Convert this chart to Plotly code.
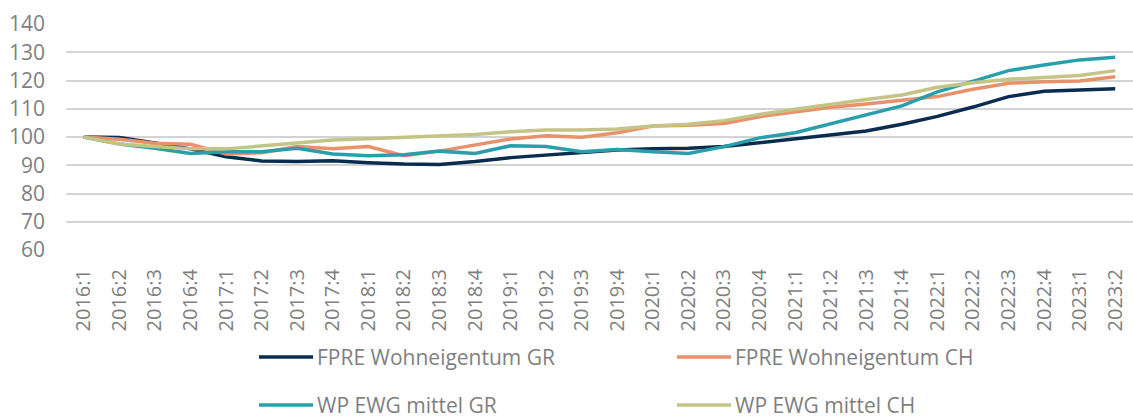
import plotly.graph_objects as go

quarters = [
    "2016:1", "2016:2", "2016:3", "2016:4",
    "2017:1", "2017:2", "2017:3", "2017:4",
    "2018:1", "2018:2", "2018:3", "2018:4",
    "2019:1", "2019:2", "2019:3", "2019:4",
    "2020:1", "2020:2", "2020:3", "2020:4",
    "2021:1", "2021:2", "2021:3", "2021:4",
    "2022:1", "2022:2", "2022:3", "2022:4",
    "2023:1", "2023:2",
]

fpre_gr = [100.0, 99.8, 97.9, 95.8, 93.0, 91.5, 91.3, 91.6, 90.9, 90.4,
           90.3, 91.3, 92.7, 93.6, 94.4, 95.4, 95.8, 96.0, 96.6, 98.0,
           99.5, 101.0, 102.1, 104.5, 107.3, 110.6, 114.3, 116.2, 116.8, 117.1]
fpre_ch = [100.0, 99.2, 97.8, 97.4, 94.0, 94.4, 96.6, 95.8, 96.6, 93.4,
           95.0, 97.3, 99.3, 100.4, 99.9, 101.5, 103.9, 104.2, 104.8, 107.2,
           109.0, 110.5, 111.7, 113.1, 114.3, 116.9, 119.0, 119.6, 119.8, 121.3]
wp_gr = [100.0, 97.5, 96.0, 94.2, 94.8, 94.8, 96.0, 94.0, 93.4, 93.7,
         95.0, 94.2, 96.9, 96.6, 94.8, 95.6, 94.8, 94.2, 96.6, 99.7,
         101.5, 104.6, 107.8, 111.0, 116.0, 119.6, 123.5, 125.5, 127.3, 128.2]
wp_ch = [100.0, 97.5, 96.6, 95.8, 95.8, 96.8, 98.0, 98.9, 99.4, 99.8,
         100.4, 100.9, 101.9, 102.5, 102.5, 102.8, 103.9, 104.5, 105.8, 108.0,
         109.8, 111.7, 113.3, 114.9, 117.6, 119.2, 120.4, 121.1, 121.8, 123.5]

series_names = [
    "FPRE Wohneigentum GR",
    "FPRE Wohneigentum CH",
    "WP EWG mittel GR",
    "WP EWG mittel CH",
]
series_values = [fpre_gr, fpre_ch, wp_gr, wp_ch]
series_colors = ["#0a2c4e", "#e8916a", "#2a9fac", "#c5c487"]

y_ticks = [60, 70, 80, 90, 100, 110, 120, 130, 140]

FONT = "Open Sans"
TEXT_GREY = "#7f7f7f"
FS = 21

fig = go.Figure()
for name, vals, col in zip(series_names, series_values, series_colors):
    fig.add_trace(go.Scatter(
        x=quarters, y=vals, name=name, mode="lines",
        line=dict(color=col, width=3.5),
        showlegend=False,
    ))

# Legend laid out as a 2x2 grid below the axis labels
W, H = 1133, 418
PL, PR, PT, PB = 66, 0, 24, 168
plot_w = W - PL - PR
plot_h = H - PT - PB
legend_slots = [(259, 357), (677, 357), (259, 405), (677, 405)]
for (lx, ly), name, col in zip(legend_slots, series_names, series_colors):
    yp = (H - PB - ly) / plot_h
    fig.add_shape(
        type="line", xref="paper", yref="paper",
        x0=(lx - PL) / plot_w, x1=(lx + 54 - PL) / plot_w,
        y0=yp, y1=yp,
        line=dict(color=col, width=3.5),
    )
    fig.add_annotation(
        xref="paper", yref="paper",
        x=(lx + 56 - PL) / plot_w, y=yp,
        xanchor="left", yanchor="middle", showarrow=False,
        text=name, font=dict(family=FONT, size=FS, color=TEXT_GREY),
    )

fig.update_layout(
    width=W, height=H,
    margin=dict(l=PL, r=PR, t=PT, b=PB),
    paper_bgcolor="white", plot_bgcolor="white",
    font=dict(family=FONT, size=FS, color=TEXT_GREY),
    showlegend=False,
)
fig.update_xaxes(
    type="category", range=[-0.5, len(quarters) - 0.5],
    tickangle=-90, showgrid=False, zeroline=False,
    showline=False, ticks="", ticklabelstandoff=14,
    tickfont=dict(family=FONT, size=20, color=TEXT_GREY),
)
fig.update_yaxes(
    range=[60, 140], tickvals=y_ticks, showgrid=True,
    gridcolor="#d3d3d3", gridwidth=1.5, zeroline=False, showline=False,
    ticks="", ticklabelstandoff=20,
    tickfont=dict(family=FONT, size=FS, color=TEXT_GREY),
)

fig.write_html("out.html")
